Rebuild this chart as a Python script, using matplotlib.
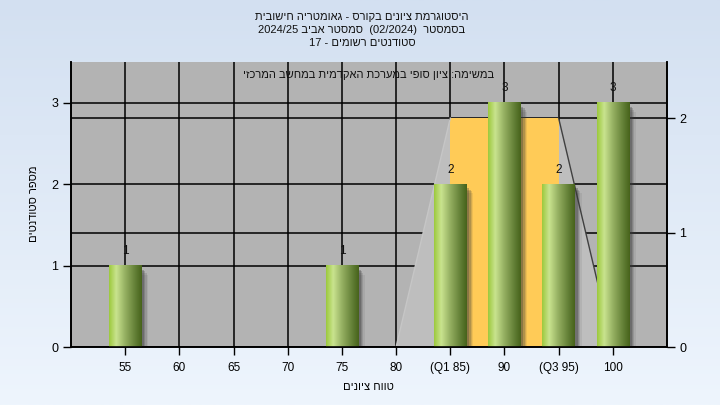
import re
import numpy as np
import matplotlib
matplotlib.use("Agg")
import matplotlib.pyplot as plt
from matplotlib.patches import Polygon, Rectangle
from matplotlib.colors import LinearSegmentedColormap

plt.rcParams['font.family'] = ['Liberation Sans', 'DejaVu Sans']

# ---- data ----
scores = [55, 60, 65, 70, 75, 80, 85, 90, 95, 100]
counts = [1, 0, 0, 0, 1, 0, 2, 3, 2, 3]
tick_labels = ['55', '60', '65', '70', '75', '80', '(Q1 85)', '90', '(Q3 95)', '100']
box_x = [80, 85, 95, 100]      # min, Q1, Q3, max
box_y = [0, 2, 2, 0]           # right-axis values
title_lines = [
    "היסטוגרמת ציונים בקורס - גאומטריה חישובית",
    "בסמסטר  (02/2024)  סמסטר אביב 2024/25",
    "סטודנטים רשומים - 17",
]
note_text = "במשימה: ציון סופי במערכת האקדמית במחשב המרכזי"
xlabel_text = "טווח ציונים"
ylabel_text = "מספר סטודנטים"


def vis(s):
    """Visual (left-to-right) order for right-to-left text."""
    r = s[::-1]
    return re.sub(r'[0-9A-Za-z/().]+', lambda m: m.group(0)[::-1], r)


HEB_FS = 8

fig = plt.figure(figsize=(7.2, 4.05), dpi=100)

# background gradient
bg = fig.add_axes([0, 0, 1, 1], zorder=-10)
bg_cmap = LinearSegmentedColormap.from_list('bg', ['#D3E0F1', '#EEF5FD'])
bg.imshow(np.linspace(0, 1, 256).reshape(-1, 1), aspect='auto', cmap=bg_cmap,
          extent=[0, 1, 0, 1], origin='upper')
bg.axis('off')

L, R, B, T = 71 / 720, 667 / 720, 1 - 347 / 405, 1 - 62 / 405
ax = fig.add_axes([L, B, R - L, T - B])
ax.set_facecolor('#B3B3B3')
ax2 = ax.twinx()
ax2.set_ylim(0, 2.49)
ax2.set_yticks([0, 1, 2])
ax2.patch.set_visible(False)

ax.set_xlim(50, 105)
ax.set_ylim(0, 3.5)
ax.set_yticks([0, 1, 2, 3])
ax.set_xticks(scores)
ax.set_xticklabels(tick_labels)
ax.set_axisbelow(True)
ax.grid(True, color='black', lw=1.1, zorder=0.5)

# right-axis gridlines drawn inside main axes (below marks)
for v in [1, 2]:
    ax.plot([0, 1], [v, v], transform=ax2.get_yaxis_transform(), color='black',
            lw=1.1, zorder=0.6)

# box-like background shape on right-axis scale
pts = list(zip(box_x, box_y))
ax.add_patch(Polygon(pts, closed=True, facecolor='#BEBEBE', edgecolor='none',
                     transform=ax2.transData, zorder=1))
ax.add_patch(Rectangle((box_x[1], 0), box_x[2] - box_x[1], box_y[1],
                       facecolor='#FFCB57', edgecolor='none',
                       transform=ax2.transData, zorder=1.5))
ax.plot(box_x[:2], box_y[:2], color='#C6C6C6', lw=1, transform=ax2.transData, zorder=1.6)
ax.plot(box_x[2:], box_y[2:], color='#404040', lw=1, transform=ax2.transData, zorder=1.6)

# bars with cylinder gradient
bar_cmap = LinearSegmentedColormap.from_list(
    'cyl', [(0, '#9CC93C'), (0.22, '#C9E38F'), (0.5, '#93AE60'), (0.8, '#627F36'), (1, '#46621A')])
grad = np.linspace(0, 1, 256).reshape(1, -1)
w = 3.0
for x, c in zip(scores, counts):
    if c <= 0:
        continue
    for k, a in enumerate([0.30, 0.22, 0.15, 0.09]):
        ax.add_patch(Rectangle((x - w / 2 + 0.2 + 0.12 * k, 0), w + 0.05, c - 0.05 - 0.02 * k,
                               facecolor='#3A3A3A', alpha=a, edgecolor='none', zorder=4))
    ax.imshow(grad, extent=[x - w / 2, x + w / 2, 0, c], aspect='auto', cmap=bar_cmap,
              interpolation='bilinear', zorder=5)
    ax.annotate(str(c), (x, c), xytext=(0, 6), textcoords='offset points',
                ha='center', va='bottom', fontsize=8.5, color='#111111', zorder=6,
                annotation_clip=False)

ax.set_xlim(50, 105)
ax.set_ylim(0, 3.5)

for a in (ax, ax2):
    a.spines['top'].set_visible(False)
    for s in ('left', 'bottom', 'right'):
        a.spines[s].set_color('black')
        a.spines[s].set_linewidth(1.2)
ax.tick_params(axis='both', length=6, width=1, color='black', labelsize=8.5, pad=3)
ax2.tick_params(axis='y', length=6, width=1, color='black', labelsize=9, pad=3)
ax.tick_params(axis='y', labelsize=9)
ax.tick_params(axis='x', pad=5)

ax.text(0.5, 0.955, vis(note_text), transform=ax.transAxes, ha='center', va='center',
        fontsize=HEB_FS, color='#111111', zorder=7)

ys = [17, 30, 43]
for line, y in zip(title_lines, ys):
    fig.text(362 / 720, 1 - y / 405, vis(line), ha='center', va='center', fontsize=HEB_FS,
             color='#111111')

fig.text(368 / 720, 1 - 387 / 405, vis(xlabel_text), ha='center', va='center', fontsize=HEB_FS)
fig.text(34 / 720, 1 - 204 / 405, vis(ylabel_text), ha='center', va='center', fontsize=HEB_FS,
         rotation=90)

fig.savefig('out.png', dpi=100)
